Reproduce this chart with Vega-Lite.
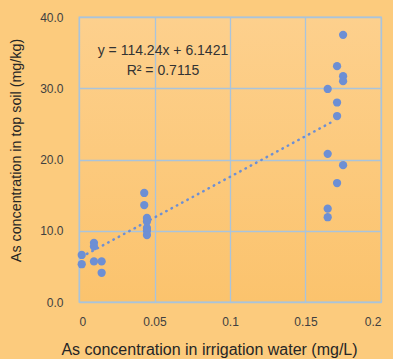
{
  "$schema": "https://vega.github.io/schema/vega-lite/v6.json",
  "width": 302,
  "height": 285,
  "autosize": {"type": "none"},
  "padding": {"left": 79, "top": 17, "right": 12, "bottom": 57},
  "background": "#fccb7d",
  "config": {
    "view": {
      "stroke": "#a9c4dc",
      "strokeWidth": 1.3,
      "fill": {
        "gradient": "linear",
        "x1": 0, "y1": 0, "x2": 0, "y2": 1,
        "stops": [
          {"offset": 0, "color": "#fdd08d"},
          {"offset": 1, "color": "#fbc36d"}
        ]
      }
    },
    "font": "Liberation Sans",
    "axis": {
      "gridColor": "#a9c4dc",
      "gridWidth": 1.3,
      "gridOpacity": 1,
      "domain": false,
      "ticks": false,
      "labelFont": "Liberation Sans",
      "labelFontSize": 12,
      "labelColor": "#404040",
      "titleFont": "Liberation Sans",
      "titleFontWeight": "normal",
      "titleColor": "#262626"
    }
  },
  "datasets": {
    "points": [
      {"water": 0.0018, "soil": 6.6},
      {"water": 0.0018, "soil": 5.3},
      {"water": 0.0099, "soil": 8.3},
      {"water": 0.0099, "soil": 7.8},
      {"water": 0.0099, "soil": 5.7},
      {"water": 0.0150, "soil": 5.7},
      {"water": 0.0150, "soil": 4.1},
      {"water": 0.0432, "soil": 15.3},
      {"water": 0.0432, "soil": 13.6},
      {"water": 0.0450, "soil": 11.8},
      {"water": 0.0450, "soil": 11.3},
      {"water": 0.0450, "soil": 10.4},
      {"water": 0.0450, "soil": 10.0},
      {"water": 0.0450, "soil": 9.4},
      {"water": 0.1647, "soil": 29.9},
      {"water": 0.1647, "soil": 20.8},
      {"water": 0.1647, "soil": 13.1},
      {"water": 0.1647, "soil": 11.9},
      {"water": 0.1709, "soil": 33.1},
      {"water": 0.1709, "soil": 28.0},
      {"water": 0.1709, "soil": 26.1},
      {"water": 0.1709, "soil": 16.7},
      {"water": 0.1749, "soil": 37.5},
      {"water": 0.1749, "soil": 31.7},
      {"water": 0.1749, "soil": 31.0},
      {"water": 0.1749, "soil": 19.2}
    ],
    "trend": [
      {"water": 0.0018, "soil": 6.35},
      {"water": 0.1680, "soil": 25.33}
    ],
    "labels": [
      {"water": 0.0556, "soil": 35.2, "text": "y = 114.24x + 6.1421"},
      {"water": 0.0556, "soil": 32.4, "text": "R² = 0.7115"}
    ]
  },
  "encoding": {
    "x": {
      "field": "water",
      "type": "quantitative",
      "scale": {"domain": [0, 0.2], "nice": false, "zero": false},
      "axis": {
        "values": [0, 0.05, 0.1, 0.15, 0.2],
        "format": "~g",
        "labelPadding": 14,
        "title": "As concentration in irrigation water (mg/L)",
        "titleFontSize": 16,
        "titleX": 130,
        "titleY": 47,
        "titleBaseline": "middle",
        "titleAnchor": "middle"
      }
    },
    "y": {
      "field": "soil",
      "type": "quantitative",
      "scale": {"domain": [0, 40], "nice": false},
      "axis": {
        "values": [0, 10, 20, 30, 40],
        "format": ".1f",
        "labelPadding": 16,
        "title": "As concentration in top soil (mg/kg)",
        "titleFontSize": 14.3,
        "titleX": -63,
        "titleY": 133,
        "titleAngle": -90,
        "titleBaseline": "middle",
        "titleAlign": "center"
      }
    }
  },
  "layer": [
    {
      "data": {"name": "trend"},
      "mark": {
        "type": "line",
        "color": "#6d8fd4",
        "strokeWidth": 2.5,
        "strokeDash": [0.5, 5.5],
        "strokeCap": "round"
      }
    },
    {
      "data": {"name": "points"},
      "mark": {
        "type": "point",
        "shape": "circle",
        "filled": true,
        "size": 68,
        "opacity": 1,
        "color": "#6d8fd4"
      }
    },
    {
      "data": {"name": "labels"},
      "mark": {
        "type": "text",
        "fontSize": 14,
        "color": "#333333",
        "font": "Liberation Sans",
        "align": "center",
        "baseline": "middle"
      },
      "encoding": {"text": {"field": "text"}}
    }
  ]
}
